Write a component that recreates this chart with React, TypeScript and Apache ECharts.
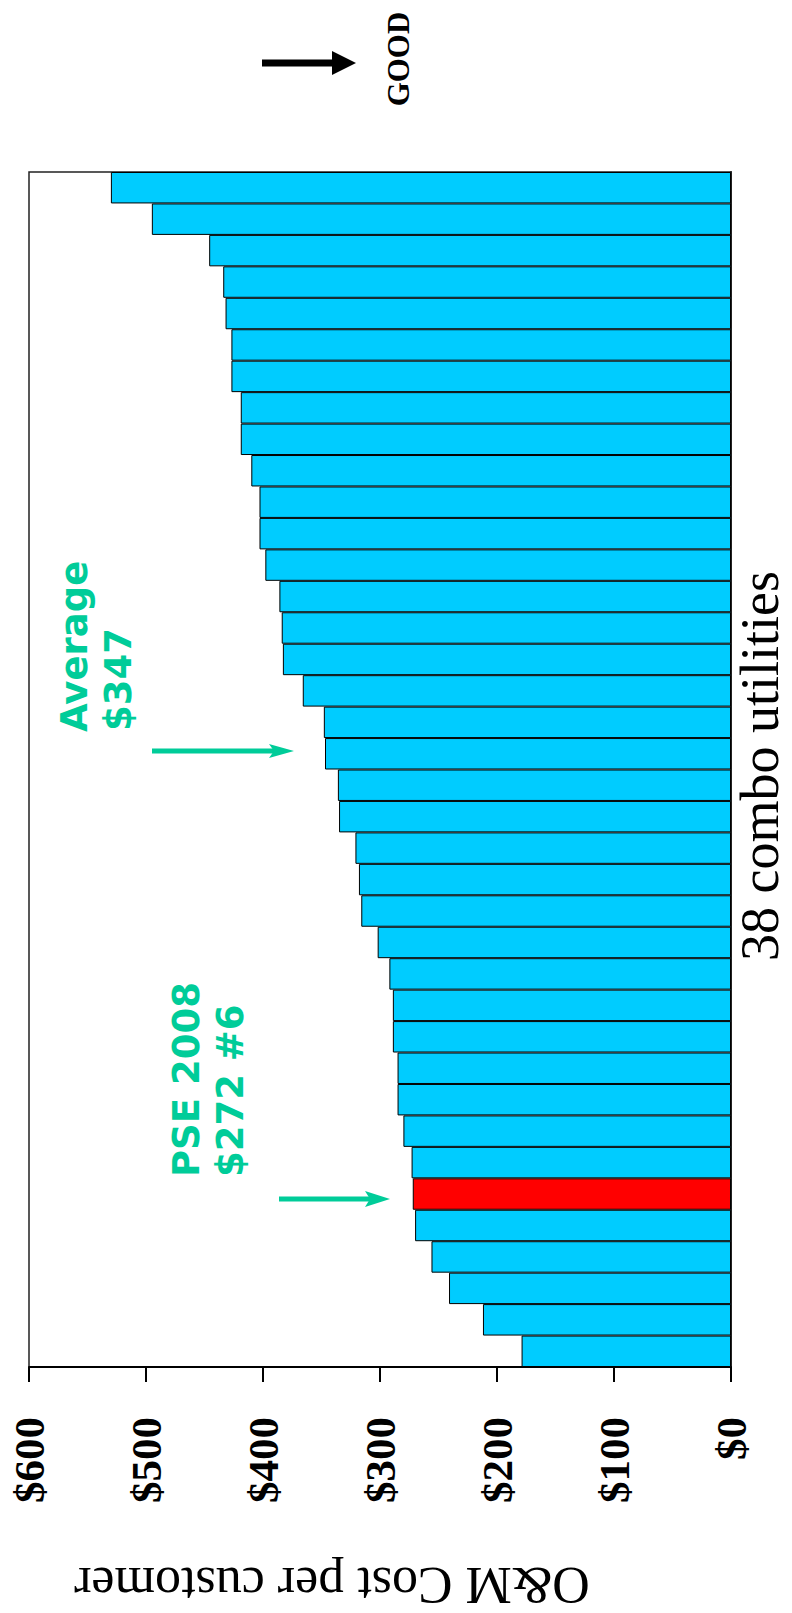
import React, { useEffect, useRef } from "react";
import * as echarts from "echarts";

// Utilities ranked from lowest O&M cost (bottom) to highest (top)
const utilities = [
  "1", "2", "3", "4", "5", "6", "7", "8", "9", "10",
  "11", "12", "13", "14", "15", "16", "17", "18", "19", "20",
  "21", "22", "23", "24", "25", "26", "27", "28", "29", "30",
  "31", "32", "33", "34", "35", "36", "37", "38",
];
const costPerCustomer = [
  179, 212, 241, 256, 270, 272, 273, 280, 285, 285,
  289, 289, 292, 302, 316, 318, 321, 335, 336, 347,
  348, 366, 383, 384, 386, 398, 403, 403, 410, 419,
  419, 427, 427, 432, 434, 446, 495, 530,
];
const pseIndex = 5; // PSE 2008, rank #6
const valueMin = 0;
const valueMax = 600;
const valueInterval = 100;

const axisTitle = "O&M Cost per customer";
const categoryTitle = "38 combo utilities";
const averageLines = ["Average", "$347"];
const pseLines = ["PSE 2008", "$272 #6"];
const goodLabel = "GOOD";

const GREEN = "#00CC99";
const BLUE = "#00CCFF";
const RED = "#FF0000";

function vText(text: string, x: number, y: number, font: string, fill: string, align: string, rotation = Math.PI / 2) {
  return {
    type: "text",
    x,
    y,
    rotation,
    style: {
      text,
      x: 0,
      y: 0,
      font,
      fill,
      align,
      textAlign: align,
      verticalAlign: "middle",
      textVerticalAlign: "middle",
    },
  };
}

function arrow(x1: number, x2: number, y: number, head: number, half: number, width: number, color: string, notch: number) {
  return [
    {
      type: "line",
      shape: { x1, y1: y, x2: x2 - head + notch + 1, y2: y },
      style: { stroke: color, lineWidth: width },
    },
    {
      type: "polygon",
      shape: {
        points: [
          [x2 - head, y - half],
          [x2, y],
          [x2 - head, y + half],
          [x2 - head + notch, y],
        ],
      },
      style: { fill: color },
    },
  ];
}

export default function App() {
  const ref = useRef<HTMLDivElement>(null);

  useEffect(() => {
    if (!ref.current) return;
    const chart = echarts.init(ref.current, undefined, { renderer: "svg" });
    const data = costPerCustomer.map((v, i) =>
      i === pseIndex ? { value: v, itemStyle: { color: RED } } : v
    );
    const sansBold = 'bold 37px "DejaVu Sans"';
    chart.setOption({
      animation: false,
      backgroundColor: "#ffffff",
      grid: {
        left: 29,
        top: 172,
        width: 702,
        height: 1195,
        show: true,
        borderColor: "#222",
        borderWidth: 1.5,
        backgroundColor: "transparent",
        containLabel: false,
        outerBoundsMode: "none",
      },
      xAxis: {
        type: "value",
        inverse: true,
        min: valueMin,
        max: valueMax,
        interval: valueInterval,
        position: "bottom",
        splitLine: { show: false },
        axisLine: { show: true, lineStyle: { color: "#000", width: 2 } },
        axisTick: { show: true, length: 15, lineStyle: { color: "#000", width: 2 } },
        axisLabel: {
          rotate: 90,
          margin: 50,
          color: "#000",
          fontFamily: "Liberation Serif",
          fontWeight: "bold",
          fontSize: 43,
          formatter: (v: number) => "$" + v,
        },
      },
      yAxis: {
        type: "category",
        data: utilities,
        position: "right",
        axisLine: { show: true, onZero: false, lineStyle: { color: "#222", width: 2 } },
        axisTick: { show: false },
        axisLabel: { show: false },
        splitLine: { show: false },
      },
      series: [
        {
          type: "bar",
          data,
          barCategoryGap: "0%",
          itemStyle: { color: BLUE, borderColor: "#000", borderWidth: 1 },
        },
      ],
      graphic: [
        ...arrow(262, 356, 63, 24, 12, 7, "#000", 0),
        vText(goodLabel, 398, 59, 'bold 31px "Liberation Serif"', "#000", "center"),
        vText(averageLines[0], 74, 732, sansBold, GREEN, "left"),
        vText(averageLines[1], 118, 731, sansBold, GREEN, "left"),
        ...arrow(152, 294, 751, 25, 7, 5, GREEN, 5),
        vText(pseLines[0], 186, 1177, sansBold, GREEN, "left"),
        vText(pseLines[1], 230, 1177, sansBold, GREEN, "left"),
        ...arrow(279, 390, 1199, 25, 8, 5, GREEN, 5),
        vText(categoryTitle, 760, 766, '54px "Liberation Serif"', "#000", "center"),
        vText(axisTitle, 332, 1585, '52px "Liberation Serif"', "#000", "center", Math.PI),
      ],
    });
    return () => chart.dispose();
  }, []);

  return (
    <div
      ref={ref}
      style={{ position: "absolute", left: 0, top: 0, width: 792, height: 1613 }}
    />
  );
}
